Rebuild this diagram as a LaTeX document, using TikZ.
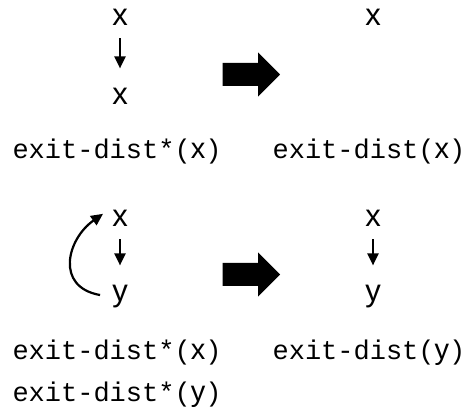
\documentclass[tikz,border=0pt]{standalone}
\usepackage{fontspec}
\setmainfont{Liberation Sans}
\setmonofont{Liberation Mono}
\newfontfamily\lettera{Liberation Sans}
\usepackage{tikz}
\usetikzlibrary{arrows.meta}

\newcommand{\exitd}[2]{\texttt{#1(}{\lettera\fontsize{29}{32}\selectfont #2}\texttt{)}}

\begin{document}
\begin{tikzpicture}[x=1pt, y=1pt,
        every node/.style={font=\fontsize{27}{32}\selectfont, inner sep=0pt, anchor=base},
        var/.style={font=\lettera\fontsize{31}{34}\selectfont},
        freccia/.style={line width=2.2pt, -{Triangle[length=12pt,width=11pt]}},
        dritta/.style={freccia, shorten <=12pt, shorten >=20pt}]
    \useasboundingbox (0,0) rectangle (468,414);
    % Colonne: sinistra, destra
    \def\sx{120} \def\dx{373}

    % Prima riga
    \node[var] (xa) at (\sx,388) {x};
    \node[var] (xb) at (\sx,309) {x};
    \node[var] (xc) at (\dx,388) {x};
    \draw[dritta] (xa) -- (xb);

    \node (la) at (117,255) {\exitd{exit-dist*}{x}};
    \node (lb) at (369,255) {\exitd{exit-dist}{x}};

    % Seconda riga
    \node[var] (xd) at (\sx,187) {x};
    \node[var] (yd) at (\sx,112) {y};
    \node[var] (xe) at (\dx,187) {x};
    \node[var] (ye) at (\dx,112) {y};
    \draw[dritta] (xd) -- (yd);
    \draw[dritta] (xe) -- (ye);
    \draw[freccia] ([xshift=-12pt,yshift=2pt]yd.west)
        .. controls +(170:46) and +(215:44) .. ([xshift=-9pt,yshift=5pt]xd.west);

    \node (lc) at (117,54) {\exitd{exit-dist*}{x}};
    \node (ld) at (117,12) {\exitd{exit-dist*}{y}};
    \node (le) at (369,54) {\exitd{exit-dist}{y}};

    % Frecce grandi
    \foreach \yc in {339.5,139.5}{
        \fill (222.7,\yc-11.5) -- (258,\yc-11.5) -- (258,\yc-22.2) -- (280,\yc)
            -- (258,\yc+22.2) -- (258,\yc+11.5) -- (222.7,\yc+11.5) -- cycle;
    }
\end{tikzpicture}
\end{document}
